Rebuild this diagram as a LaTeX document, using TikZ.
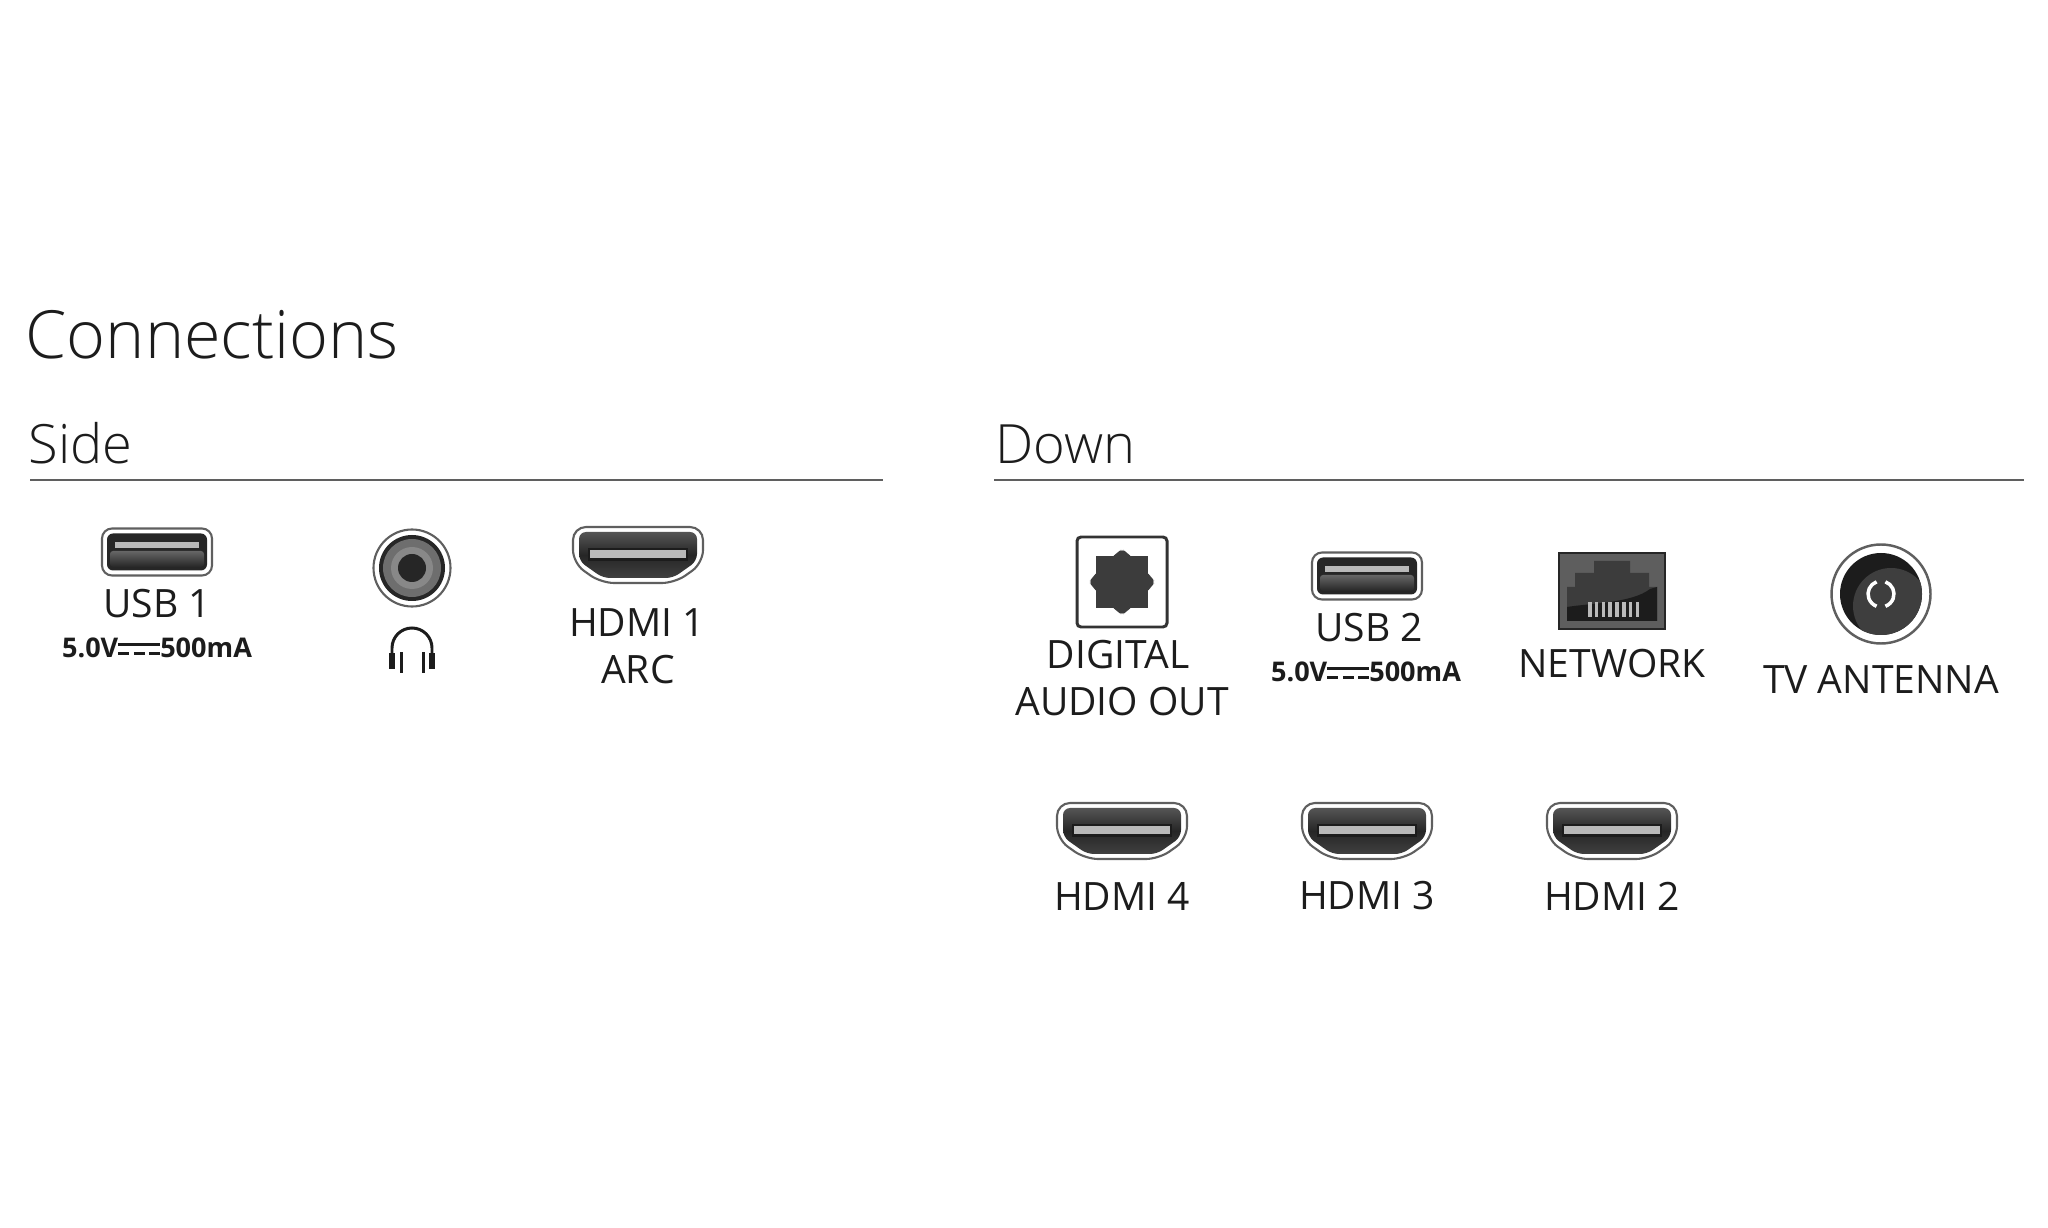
\documentclass[tikz,border=0pt]{standalone}
\usepackage{fontspec}
\setmainfont{Open Sans}
\newfontfamily\lightfont{Open Sans Light}
\usepackage{xcolor}
\usetikzlibrary{arrows.meta,positioning,calc}
\definecolor{inkdark}{RGB}{28,28,28}
\definecolor{portdark}{RGB}{38,38,38}
\definecolor{portmid}{RGB}{85,85,85}
\definecolor{rimgray}{RGB}{95,95,95}
\definecolor{slotlight}{RGB}{185,185,185}
\newcommand{\dcsym}{\raisebox{0.15ex}{\rlap{\rule[0.62ex]{1.55em}{0.2ex}}\rule{0.4em}{0.2ex}\kern0.175em\rule{0.4em}{0.2ex}\kern0.175em\rule{0.4em}{0.2ex}}}
\tikzset{
    title/.style={font=\lightfont\fontsize{18.9}{24}\selectfont, text=inkdark, inner sep=0pt, anchor=base west},
    head/.style={font=\lightfont\fontsize{15.4}{18}\selectfont, text=inkdark, inner sep=0pt, anchor=base west},
    lbl/.style={font=\fontsize{11.1}{13}\selectfont, text=inkdark, inner sep=0pt, align=center},
    rating/.style={font=\bfseries\fontsize{7.7}{9}\selectfont, text=inkdark, inner sep=0pt, align=center},
    rule/.style={draw=rimgray, line width=0.6pt},
    usbport/.pic={
        \draw[rimgray, fill=white, line width=0.6pt, rounded corners=1mm] (-55,-23.5) rectangle (55,23.5);
        \fill[portdark, rounded corners=0.6mm] (-50,-18.5) rectangle (50,18.5);
        \shade[top color=portmid!90!white, bottom color=portdark, rounded corners=0.3mm] (-47,-1) rectangle (47,15);
        \fill[slotlight] (-42,-10) rectangle (42,-4);
    },
    hdmiport/.pic={
        \draw[rimgray, fill=white, line width=0.6pt, rounded corners=1.3mm]
            (-65,-28) -- (65,-28) -- (65,8) -- (37,28) -- (-37,28) -- (-65,8) -- cycle;
        \shade[top color=portmid, bottom color=portmid!75!black, middle color=portdark, rounded corners=0.7mm]
            (-59,-23) -- (59,-23) -- (59,6) -- (35,23) -- (-35,23) -- (-59,6) -- cycle;
        \fill[inkdark] (-50,-7) rectangle (50,6);
        \fill[slotlight] (-48,-4.5) rectangle (48,3);
    },
    jackport/.pic={
        \draw[rimgray, fill=white, line width=0.6pt] (0,0) circle[radius=38.5];
        \fill[portdark] (0,0) circle[radius=33];
        \fill[portmid!85!white] (0,0) circle[radius=29];
        \fill[portmid!70!white] (0,0) circle[radius=21];
        \fill[portdark] (0,0) circle[radius=14];
    },
    phonesicon/.pic={
        \draw[inkdark, line width=0.85pt] (-20,5) -- (-20,0) arc[start angle=180, end angle=360, radius=20] -- (20,5);
        \foreach \s in {-1,1} {
            \fill[inkdark] ({\s*23},5) rectangle ({\s*17},21);
            \fill[inkdark] ({\s*12.5},4) rectangle ({\s*9.5},25);
        }
    },
    opticalport/.pic={
        \draw[inkdark!90!white, fill=white, line width=0.85pt, rounded corners=0.4mm] (-45,-45) rectangle (45,45);
        \fill[portdark!90!white] (-26,-26) rectangle (26,26);
        \foreach \a in {0,90,180,270}
            \fill[portdark!90!white, rotate=\a, rounded corners=0.4mm] (-11,-24) -- (-4,-30) -- (0,-33) -- (4,-30) -- (11,-24) -- cycle;
    },
    lanport/.pic={
        \fill[portmid!95!white, draw=portdark, line width=0.5pt] (-53,-38) rectangle (53,38);
        \fill[portdark!90!white] (-45,30) -- (-45,-4) -- (-37,-4) -- (-37,-18) -- (-18,-18) -- (-18,-30)
            -- (18,-30) -- (18,-18) -- (37,-18) -- (37,-4) -- (45,-4) -- (45,30) -- cycle;
        \fill[inkdark] (-45,30) -- (-45,16) .. controls (-20,12) and (20,12) .. (38,-2) -- (45,-4) -- (45,30) -- cycle;
        \foreach \i in {0,...,7}
            \fill[slotlight] ({-24+\i*6.8},11) rectangle ({-20.5+\i*6.8},26);
    },
    antennaport/.pic={
        \draw[rimgray, fill=white, line width=0.7pt] (0,0) circle[radius=49.5];
        \fill[inkdark] (0,0) circle[radius=41];
        \begin{scope}
            \clip (0,0) circle[radius=41];
            \fill[portmid!60!inkdark] (10,12) circle[radius=38];
        \end{scope}
        \draw[white, line width=1pt] (-4.4,-12.2) arc[start angle=250, end angle=110, radius=13];
        \draw[white, line width=1pt] (4.4,-12.2) arc[start angle=-70, end angle=70, radius=13];
    },
}
\begin{document}
\begin{tikzpicture}[x=0.01cm, y=-0.01cm]
    \useasboundingbox (0,0) rectangle (2048,1228);

    \node[title] (conn) at (25,359) {Connections};
    \node[head] (side) at (28,464) {Side};
    \node[head] (down) at (995,464) {Down};
    \coordinate (sideL) at (30,480);
    \coordinate (sideR) at (883,480);
    \coordinate (downL) at (994,480);
    \coordinate (downR) at (2024,480);
    \draw[rule] (sideL) -- (sideR);
    \draw[rule] (downL) -- (downR);

    \pic at (157,552) {usbport};
    \node[lbl] (usbA) at (157,604) {USB 1};
    \node[rating] (rateA) at (157,648) {5.0V\dcsym500mA};

    \pic at (412,568) {jackport};
    \pic at (412,648) {phonesicon};

    \pic at (638,555) {hdmiport};
    \node[lbl] (hdmiA) at (637,623) {HDMI 1};
    \node[lbl] (arc) at (638,670) {ARC};

    \pic at (1122,582) {opticalport};
    \node[lbl] (digital) at (1118,655) {DIGITAL};
    \node[lbl] (audio) at (1122,702) {AUDIO OUT};

    \pic at (1367,576) {usbport};
    \node[lbl] (usbB) at (1369,628) {USB 2};
    \node[rating] (rateB) at (1366,672) {5.0V\dcsym500mA};

    \pic at (1612,591) {lanport};
    \node[lbl] (network) at (1612,664) {NETWORK};

    \pic at (1881,594) {antennaport};
    \node[lbl] (antenna) at (1881,680) {TV ANTENNA};

    \pic at (1122,831) {hdmiport};
    \pic at (1367,831) {hdmiport};
    \pic at (1612,831) {hdmiport};
    \node[lbl] (hdmiD) at (1122,896) {HDMI 4};
    \node[lbl] (hdmiC) at (1367,896) {HDMI 3};
    \node[lbl] (hdmiB) at (1612,896) {HDMI 2};
\end{tikzpicture}
\end{document}
